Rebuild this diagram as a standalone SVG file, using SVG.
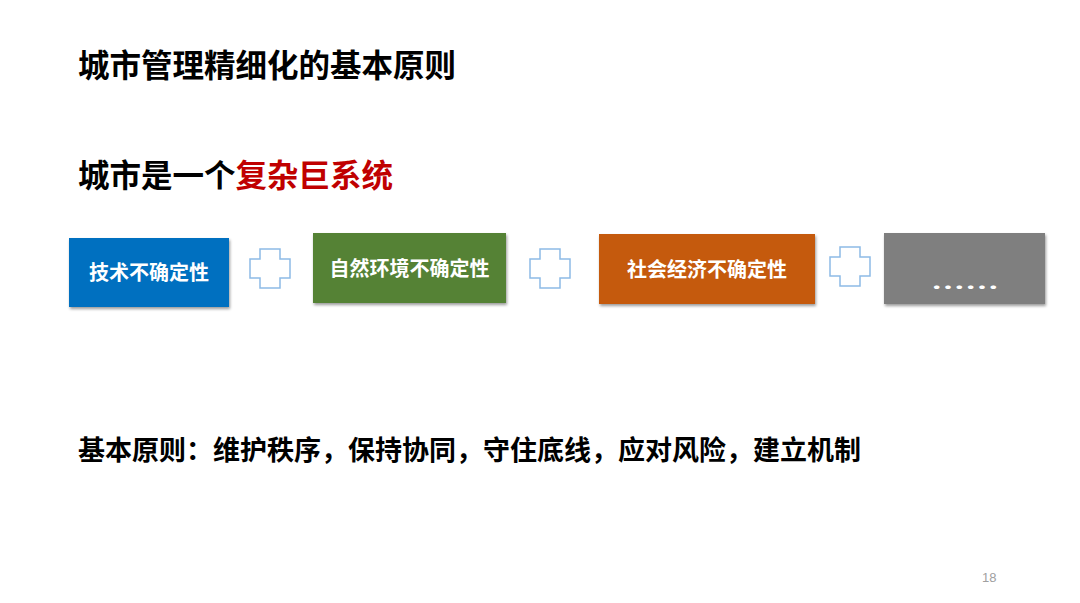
<svg xmlns="http://www.w3.org/2000/svg" width="1080" height="603" viewBox="0 0 1080 603">
<style>
.t{font-family:"Noto Sans CJK SC","Liberation Sans",sans-serif;font-weight:bold;fill:#000}
.bx{font-family:"Noto Sans CJK SC","Liberation Sans",sans-serif;font-weight:bold;font-size:20px;fill:#fff;text-anchor:middle}
.plus{fill:#fff;stroke:#8DBBE6;stroke-width:1.5}
</style>
<defs>
<filter id="sh" x="-10%" y="-10%" width="125%" height="140%">
<feGaussianBlur in="SourceAlpha" stdDeviation="1.5"/>
<feOffset dx="1" dy="2" result="b"/>
<feComponentTransfer><feFuncA type="linear" slope="0.4"/></feComponentTransfer>
<feMerge><feMergeNode/><feMergeNode in="SourceGraphic"/></feMerge>
</filter>
<path id="cross" d="M10,0 H30 V10 H40 V29 H30 V39 H10 V29 H0 V10 H10 Z"/>
</defs>
<rect width="1080" height="603" fill="#fff"/>
<text class="t" x="78" y="77" font-size="31.5">城市管理精细化的基本原则</text>
<text class="t" x="78" y="187" font-size="31.5">城市是一个<tspan fill="#C00000">复杂巨系统</tspan></text>
<g id="node-tech">
<rect x="69" y="238" width="160" height="69" fill="#0070C0" filter="url(#sh)"/>
<text class="bx" x="149" y="280">技术不确定性</text>
</g>
<g id="node-nature">
<rect x="313" y="233" width="193" height="70" fill="#548235" filter="url(#sh)"/>
<text class="bx" x="409.5" y="276">自然环境不确定性</text>
</g>
<g id="node-more">
<rect x="884" y="233" width="161" height="71" fill="#7F7F7F" filter="url(#sh)"/>
<text x="931" y="295" font-family="Noto Sans CJK SC, sans-serif" font-weight="bold" font-size="22" fill="#fff" textLength="68" lengthAdjust="spacingAndGlyphs">……</text>
</g>
<g id="node-social">
<rect x="599" y="234" width="216" height="70" fill="#C55A11" filter="url(#sh)"/>
<text class="bx" x="707" y="277">社会经济不确定性</text>
</g>
<g id="connectors">
<use href="#cross" class="plus" x="250" y="249"/>
<use href="#cross" class="plus" x="530" y="249"/>
<use href="#cross" class="plus" x="830" y="247"/>
</g>
<text class="t" x="78" y="460" font-size="27">基本原则：维护秩序，保持协同，守住底线，应对风险，建立机制</text>
<text x="982" y="582" font-family="Liberation Sans, sans-serif" font-size="13" fill="#A0A0A0">18</text>
</svg>
